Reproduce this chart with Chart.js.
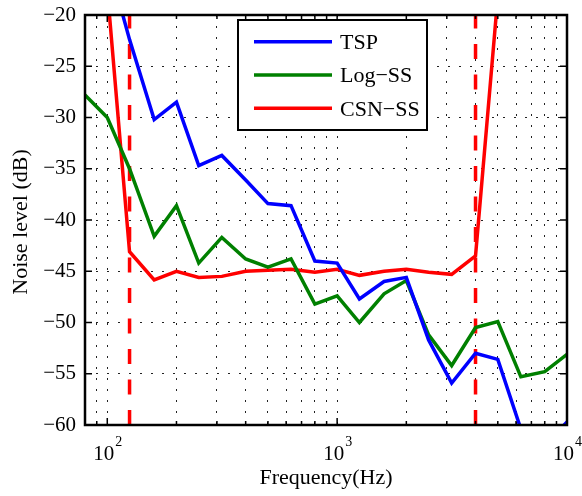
<!DOCTYPE html>
<html lang="en">
<head>
    <meta charset="UTF-8">
    <title>Noise level vs frequency</title>
    <script src="https://cdn.jsdelivr.net/npm/chart.js"></script>
    <style>
        body { margin: 0; background: #fff; }
        canvas { display: block; }
    </style>
</head>
<body>
    <canvas id="noiseChart" width="582" height="496"></canvas>

    <script>
        // 1/3-octave band centre frequencies (Hz)
        const freqs = [80, 100, 125, 160, 200, 250, 315, 400, 500, 630, 800,
                       1000, 1250, 1600, 2000, 2500, 3150, 4000, 5000, 6300, 8000, 10000];

        // noise level per band (dB)
        const tsp   = [-5, -14.5, -22.4, -30.2, -28.5, -34.7, -33.7, -36.1, -38.4, -38.6, -44.0,
                       -44.2, -47.7, -46.0, -45.6, -51.7, -55.9, -53.0, -53.6, -60.4, -62.0, -59.7];
        const logSS = [-27.8, -30.0, -35.0, -41.6, -38.6, -44.2, -41.7, -43.8, -44.6, -43.8, -48.2,
                       -47.4, -50.0, -47.2, -45.9, -51.2, -54.2, -50.5, -49.9, -55.3, -54.8, -53.1];
        const csnSS = [-5, -17.5, -43.1, -45.85, -45.0, -45.6, -45.5, -45.0, -44.9, -44.8, -45.1,
                       -44.8, -45.4, -45.0, -44.8, -45.1, -45.3, -43.5, -18.2, 0, 5, 10];

        // band edges of the CSN sweep (dashed markers)
        const cutoffFreqs = [125, 4000];

        const yTicks = [-60, -55, -50, -45, -40, -35, -30, -25, -20];
        const xDecades = [100, 1000, 10000];

        const serif = "'Liberation Serif', 'Times New Roman', serif";

        function pts(values) {
            return freqs.map((f, i) => ({ x: f, y: values[i] }));
        }

        const series = [
            { label: 'TSP', data: pts(tsp), color: 'rgb(0,0,255)' },
            { label: 'Log\u2212SS', data: pts(logSS), color: 'rgb(0,128,0)' },
            { label: 'CSN\u2212SS', data: pts(csnSS), color: 'rgb(255,0,0)' }
        ];

        const datasets = series.map(s => ({
            label: s.label,
            data: s.data,
            borderColor: s.color,
            borderWidth: 3.5,
            pointRadius: 0,
            tension: 0,
            clip: 0
        }));

        cutoffFreqs.forEach(f => {
            datasets.push({
                label: '',
                data: [{ x: f, y: -60 }, { x: f, y: -20 }],
                borderColor: 'rgb(255,0,0)',
                borderWidth: 3.5,
                borderDash: [15, 15.5],
                pointRadius: 0,
                clip: 0
            });
        });

        // axes box, inward ticks, labels, titles and legend drawn matlab-style
        const matlabAxes = {
            id: 'matlabAxes',
            afterDatasetsDraw(chart) {
                const ctx = chart.ctx;
                const a = chart.chartArea;
                const xs = chart.scales.x;
                const ys = chart.scales.y;
                ctx.save();

                // ticks
                ctx.strokeStyle = '#000';
                ctx.lineWidth = 1.5;
                ctx.beginPath();
                yTicks.forEach(v => {
                    const y = ys.getPixelForValue(v);
                    ctx.moveTo(a.left, y); ctx.lineTo(a.left + 7, y);
                    ctx.moveTo(a.right, y); ctx.lineTo(a.right - 7, y);
                });
                xs.ticks.forEach(t => {
                    const x = xs.getPixelForValue(t.value);
                    const len = xDecades.includes(t.value) ? 7 : 4;
                    ctx.moveTo(x, a.bottom); ctx.lineTo(x, a.bottom - len);
                    ctx.moveTo(x, a.top); ctx.lineTo(x, a.top + len);
                });
                ctx.stroke();

                // box
                ctx.lineWidth = 2.5;
                ctx.strokeRect(a.left, a.top, a.right - a.left, a.bottom - a.top);

                // y tick labels
                ctx.fillStyle = '#000';
                ctx.font = '21px ' + serif;
                ctx.textAlign = 'right';
                ctx.textBaseline = 'middle';
                yTicks.forEach(v => {
                    const txt = (v < 0 ? '\u2212' : '') + Math.abs(v);
                    ctx.fillText(txt, a.left - 9, ys.getPixelForValue(v));
                });

                // x tick labels 10^n
                xDecades.forEach(v => {
                    const x = xs.getPixelForValue(v);
                    const exp = String(Math.round(Math.log10(v)));
                    ctx.font = '21px ' + serif;
                    const w1 = ctx.measureText('10').width;
                    ctx.font = '14px ' + serif;
                    const w2 = ctx.measureText(exp).width;
                    const x0 = x - (w1 + w2) / 2;
                    ctx.textAlign = 'left';
                    ctx.textBaseline = 'alphabetic';
                    ctx.font = '21px ' + serif;
                    ctx.fillText('10', x0, 460);
                    ctx.font = '14px ' + serif;
                    ctx.fillText(exp, x0 + w1 + 1, 446);
                });

                // axis titles
                ctx.font = '22px ' + serif;
                ctx.textAlign = 'center';
                ctx.textBaseline = 'middle';
                ctx.fillText('Frequency(Hz)', (a.left + a.right) / 2, 478);
                ctx.save();
                ctx.translate(21, 222);
                ctx.rotate(-Math.PI / 2);
                ctx.fillText('Noise level (dB)', 0, 0);
                ctx.restore();

                // legend
                const lx = 238, ly = 20, lw = 189, lh = 110;
                ctx.fillStyle = '#fff';
                ctx.fillRect(lx, ly, lw, lh);
                ctx.lineWidth = 2;
                ctx.strokeStyle = '#000';
                ctx.strokeRect(lx, ly, lw, lh);
                const rows = [41.7, 75, 108.3];
                ctx.font = '22px ' + serif;
                ctx.textAlign = 'left';
                ctx.textBaseline = 'middle';
                series.forEach((s, i) => {
                    ctx.strokeStyle = s.color;
                    ctx.lineWidth = 3.5;
                    ctx.beginPath();
                    ctx.moveTo(254, rows[i]);
                    ctx.lineTo(332, rows[i]);
                    ctx.stroke();
                    ctx.fillStyle = '#000';
                    ctx.fillText(s.label, 340, rows[i] + 1.5);
                });

                ctx.restore();
            }
        };

        const gridOpts = {
            color: '#222',
            lineWidth: 1,
            drawTicks: false
        };

        new Chart(document.getElementById('noiseChart').getContext('2d'), {
            type: 'line',
            data: { datasets: datasets },
            options: {
                responsive: false,
                animation: false,
                layout: { padding: { left: 85, right: 15, top: 15, bottom: 71 } },
                plugins: {
                    legend: { display: false },
                    tooltip: { enabled: false }
                },
                scales: {
                    x: {
                        type: 'logarithmic',
                        min: 80,
                        max: 10000,
                        grid: gridOpts,
                        border: { display: false, dash: [2, 9] },
                        ticks: { display: false },
                        afterBuildTicks(scale) {
                            // keep 1..9 x 10^n only (drop the 15 x 10^n steps)
                            scale.ticks = scale.ticks.filter(t => {
                                const m = t.value / Math.pow(10, Math.floor(Math.log10(t.value) + 1e-9));
                                return Math.abs(m - Math.round(m)) < 1e-6;
                            });
                        }
                    },
                    y: {
                        min: -60,
                        max: -20,
                        grid: gridOpts,
                        border: { display: false, dash: [2, 9] },
                        ticks: { display: false, stepSize: 5 }
                    }
                }
            },
            plugins: [matlabAxes]
        });
    </script>
</body>
</html>
